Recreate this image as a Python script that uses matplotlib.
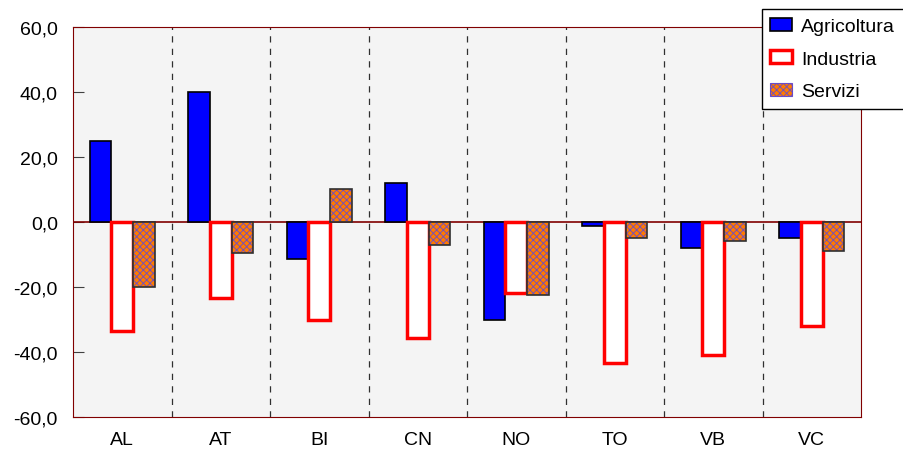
import numpy as np
import matplotlib.pyplot as plt
from matplotlib.patches import Patch
from matplotlib.ticker import FuncFormatter

plt.rcParams['font.family'] = ['Liberation Sans', 'DejaVu Sans']
plt.rcParams['hatch.linewidth'] = 0.6

categories = ["AL", "AT", "BI", "CN", "NO", "TO", "VB", "VC"]
agricoltura = [25.0, 40.0, -11.3, 12.0, -30.2, -1.2, -8.0, -4.9]
industria = [-33.5, -23.4, -30.2, -35.7, -21.8, -43.4, -40.8, -32.0]
servizi = [-20.0, -9.5, 10.2, -7.0, -22.5, -4.9, -5.7, -8.8]

x = np.arange(len(categories))
w = 0.22

fig = plt.figure(figsize=(9.04, 4.52), dpi=100)
ax = fig.add_axes([0.0808, 0.0752, 0.8717, 0.8628])
ax.set_facecolor('#f4f4f4')

ax.bar(x - w, agricoltura, w, color='#0000ff', edgecolor='black', linewidth=1.2, zorder=3)
ax.bar(x, industria, w, color='white', edgecolor='#ff0000', linewidth=2.5, zorder=3)
ax.bar(x + w, servizi, w, color='#ff7a00', edgecolor='#6a4cc8', hatch='xxxxx', linewidth=0, zorder=3)
ax.bar(x + w, servizi, w, fill=False, edgecolor='#303030', linewidth=1.2, zorder=4)

for b in np.arange(len(categories) - 1) + 0.5:
    ax.axvline(b, color='#303030', linestyle=(0, (5, 5)), linewidth=0.9, zorder=1)
ax.axhline(0, color='#800000', linewidth=1.2, zorder=2)

ax.set_xlim(-0.5, len(categories) - 0.5)
ax.set_ylim(-60, 60)
ax.set_yticks(np.arange(-60, 61, 20))
ax.yaxis.set_major_formatter(FuncFormatter(lambda v, p: f"{v:.1f}".replace('.', ',')))
ax.set_xticks(x)
ax.set_xticklabels(categories)
ax.tick_params(axis='y', direction='in', length=8, labelsize=14, color='#404040', pad=11)
ax.tick_params(axis='x', length=0, labelsize=14, pad=10)
for s in ax.spines.values():
    s.set_color('#800000')

handles = [
    Patch(facecolor='#0000ff', edgecolor='black', linewidth=1.2),
    Patch(facecolor='white', edgecolor='#ff0000', linewidth=2.5),
    Patch(facecolor='#ff7a00', edgecolor='#6a4cc8', hatch='xxxxx', linewidth=0.8),
]
fig.legend(handles, ["Agricoltura", "Industria", "Servizi"], loc='upper right',
           bbox_to_anchor=(1.0, 1 - 10 / 452), fontsize=14, fancybox=False,
           edgecolor='black', framealpha=1, borderpad=0.45, labelspacing=0.78,
           handlelength=1.1, handleheight=0.65, handletextpad=0.5, borderaxespad=0)

fig.savefig('out.png', dpi=100)
